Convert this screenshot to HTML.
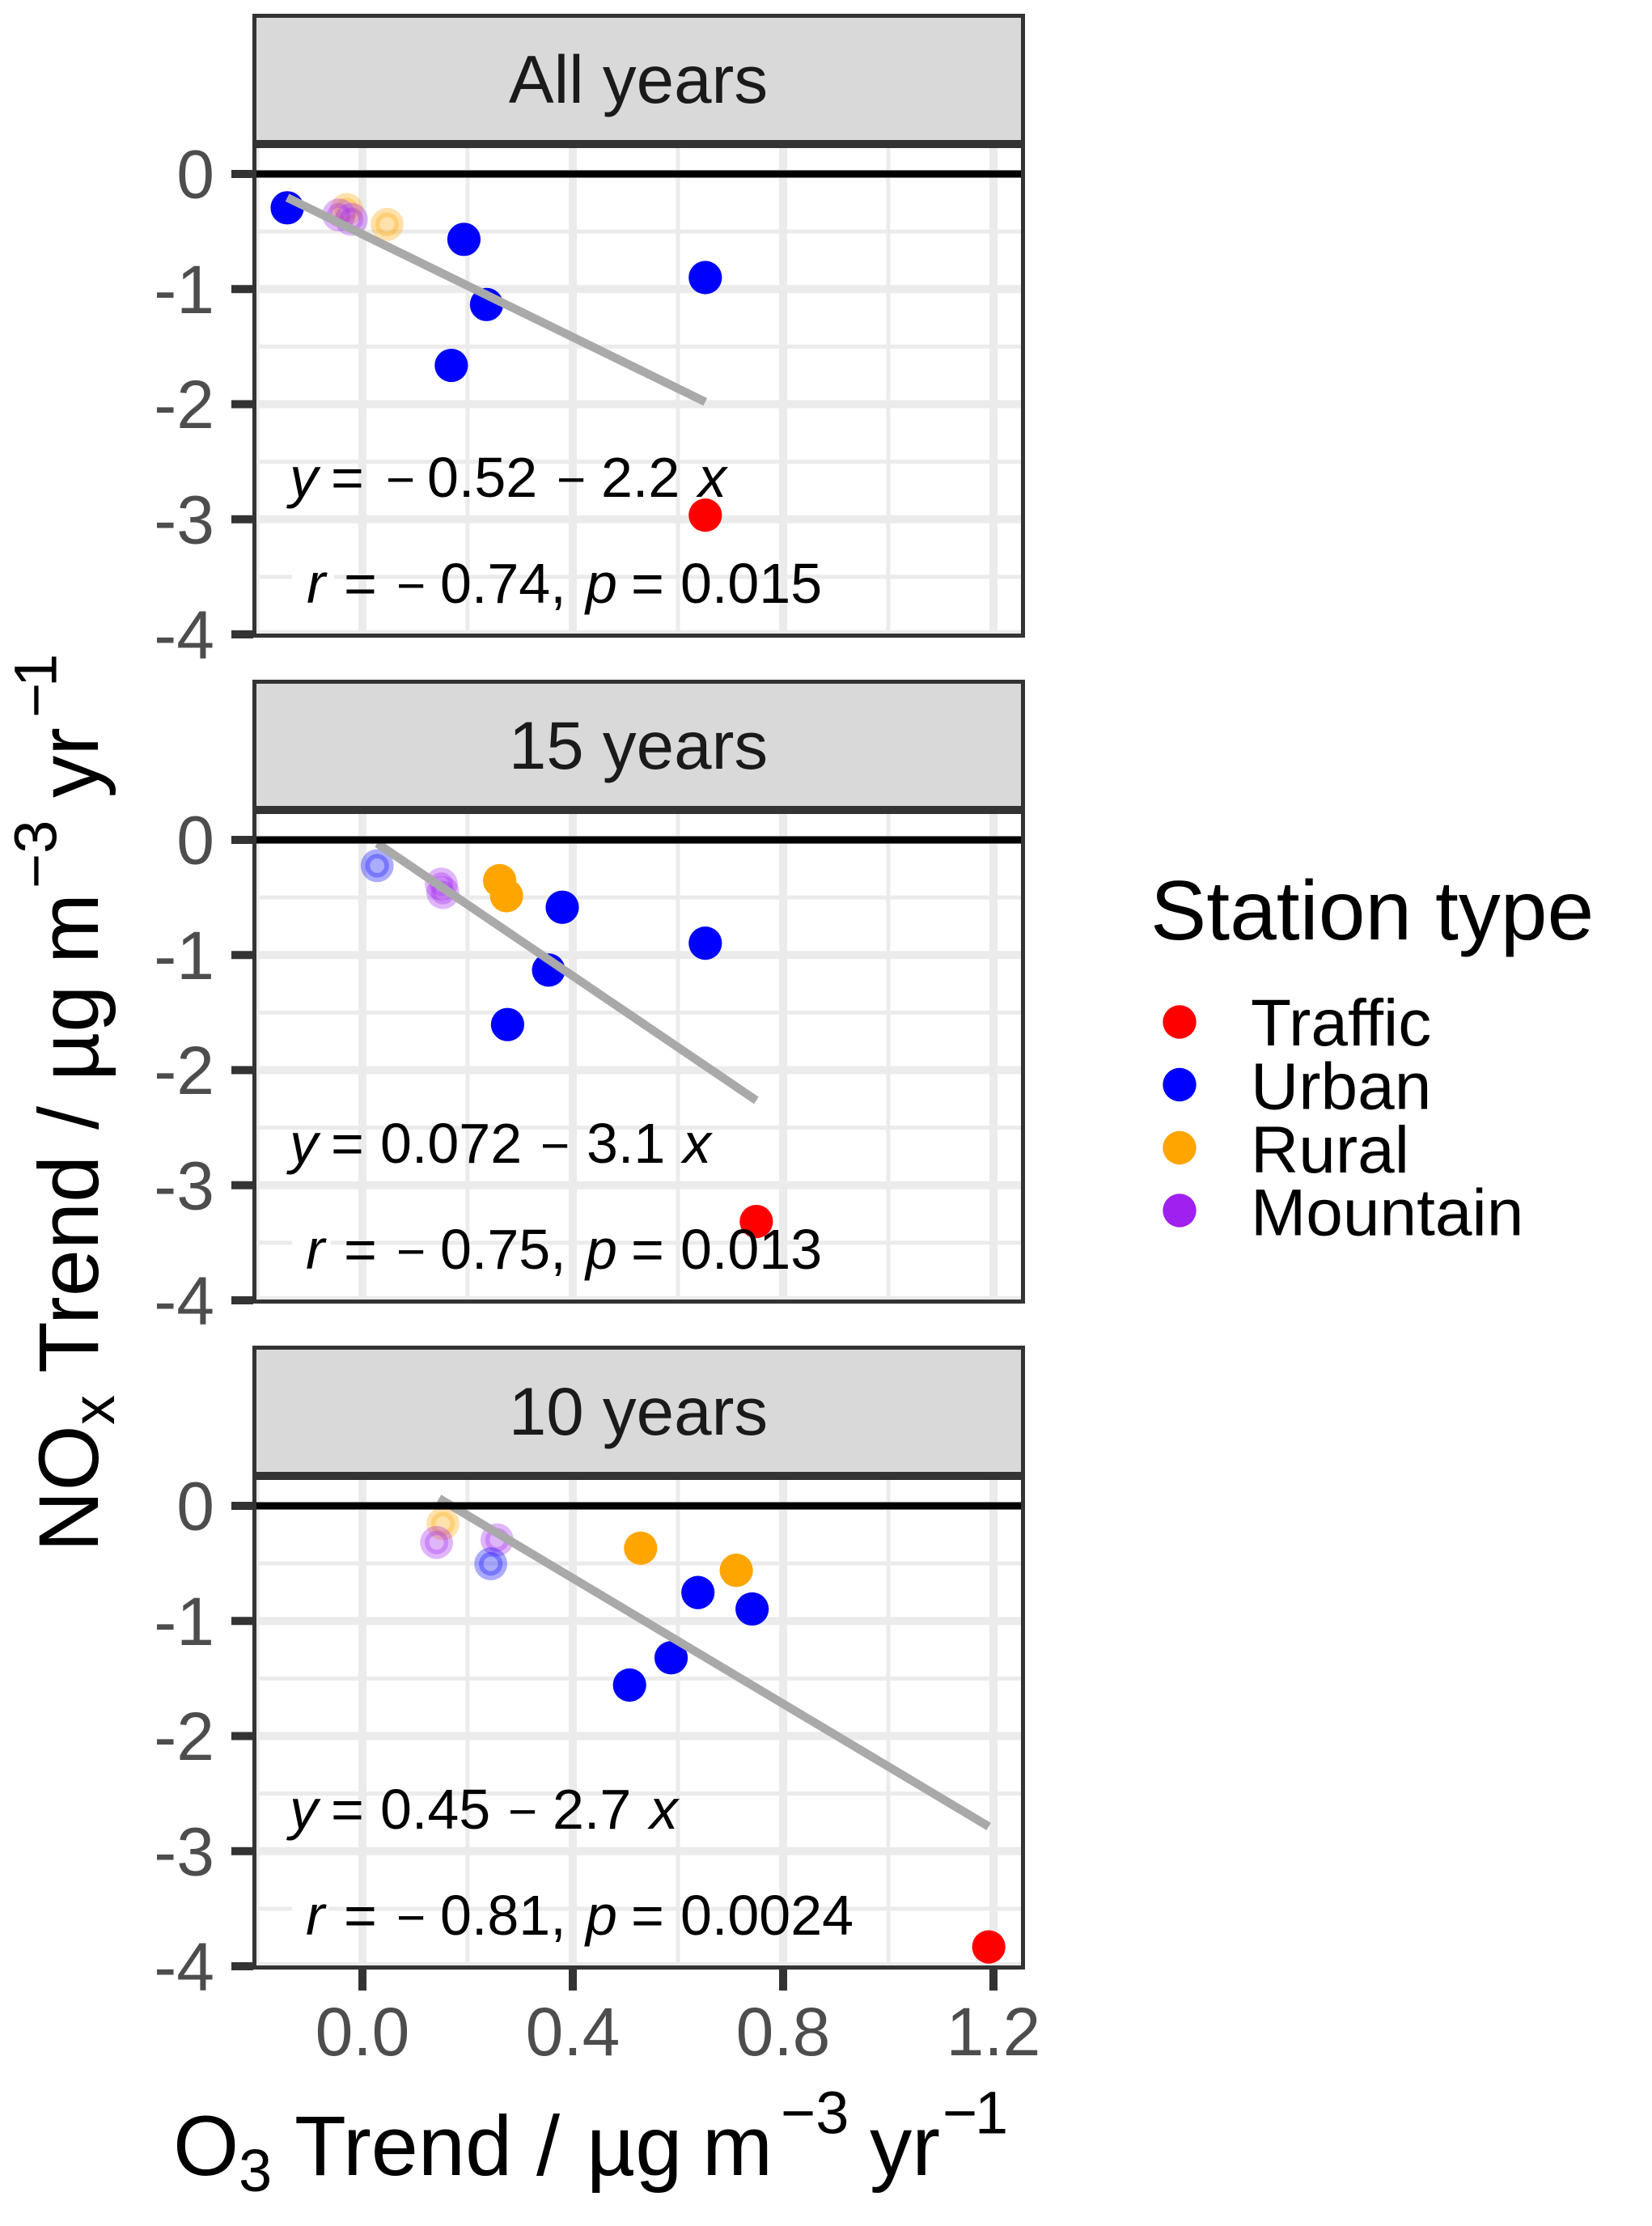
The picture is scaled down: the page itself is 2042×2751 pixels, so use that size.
<!DOCTYPE html>
<html lang="en">
<head>
<meta charset="utf-8">
<title>NOx trend versus O3 trend</title>
<style>
html,body{margin:0;padding:0;background:#fff;}
svg{display:block;font-family:"Liberation Sans",Arial,sans-serif;}
.eq{font-size:70px;fill:#000;}
.eq .i{font-style:italic;}
.eq .m{font-size:62px;}
.axt{font-size:104.5px;fill:#000;}
.sup{font-size:74px;fill:#000;}
.leg{font-size:82px;fill:#000;}
</style>
</head>
<body>
<svg id="chart" xmlns="http://www.w3.org/2000/svg" width="2042" height="2751" viewBox="0 0 2042 2751">
  <rect x="0" y="0" width="2042" height="2751" fill="#ffffff"/>
  <g id="layer-grid"></g>
  <g id="layer-marks"></g>

  <g id="layer-annotations">
    <rect x="361" y="705" width="52" height="16" fill="#fff"/>
    <rect x="361" y="1528" width="48" height="16" fill="#fff"/>
    <rect x="361" y="2351" width="45" height="16" fill="#fff"/>

    <text class="eq" y="614"><tspan class="i" x="358">y</tspan><tspan x="409">=</tspan><tspan class="m" x="477">−</tspan><tspan x="528">0.52</tspan><tspan class="m" x="688">−</tspan><tspan x="743">2.2</tspan><tspan class="i" x="863">x</tspan></text>
    <text class="eq" y="745"><tspan class="i" x="379">r</tspan><tspan x="425">=</tspan><tspan class="m" x="490">−</tspan><tspan x="544">0.74,</tspan><tspan class="i" x="724">p</tspan><tspan x="780">=</tspan><tspan x="841">0.015</tspan></text>

    <text class="eq" y="1437"><tspan class="i" x="358">y</tspan><tspan x="409">=</tspan><tspan x="470">0.072</tspan><tspan class="m" x="668">−</tspan><tspan x="725">3.1</tspan><tspan class="i" x="844">x</tspan></text>
    <text class="eq" y="1568"><tspan class="i" x="378">r</tspan><tspan x="425">=</tspan><tspan class="m" x="490">−</tspan><tspan x="544">0.75,</tspan><tspan class="i" x="724">p</tspan><tspan x="780">=</tspan><tspan x="841">0.013</tspan></text>

    <text class="eq" y="2260"><tspan class="i" x="358">y</tspan><tspan x="409">=</tspan><tspan x="470">0.45</tspan><tspan class="m" x="628">−</tspan><tspan x="683">2.7</tspan><tspan class="i" x="803">x</tspan></text>
    <text class="eq" y="2391"><tspan class="i" x="378">r</tspan><tspan x="425">=</tspan><tspan class="m" x="490">−</tspan><tspan x="544">0.81,</tspan><tspan class="i" x="724">p</tspan><tspan x="780">=</tspan><tspan x="841">0.0024</tspan></text>
  </g>

  <g id="layer-frame"></g>
  <g id="layer-axes"></g>

  <g>
    <text class="axt" x="214" y="2688">O</text>
    <text class="sup" x="295" y="2708">3</text>
    <text class="axt" x="364" y="2688">Trend</text>
    <text class="axt" x="663" y="2688">/</text>
    <text class="axt" x="725" y="2688">µg</text>
    <text class="axt" x="868" y="2688">m</text>
    <text class="sup" x="965" y="2636.5">−3</text>
    <text class="axt" x="1075" y="2688">yr</text>
    <text class="sup" x="1165" y="2636.5">−</text>
    <text class="sup" x="1205" y="2636.5">1</text>
  </g>

  <g>
    <text class="axt" transform="translate(121,1918) rotate(-90)">NO</text>
    <text class="sup" transform="translate(141,1761) rotate(-90)">x</text>
    <text class="axt" transform="translate(121,1697) rotate(-90)">Trend</text>
    <text class="axt" transform="translate(121,1396) rotate(-90)">/</text>
    <text class="axt" transform="translate(121,1336) rotate(-90)">µg</text>
    <text class="axt" transform="translate(121,1191) rotate(-90)">m</text>
    <text class="sup" transform="translate(69.5,1098) rotate(-90)">−3</text>
    <text class="axt" transform="translate(121,986) rotate(-90)">yr</text>
    <text class="sup" transform="translate(69.5,887) rotate(-90)">−</text>
    <text class="sup" transform="translate(69.5,849) rotate(-90)">1</text>
  </g>

  <g>
    <text x="1422" y="1161" font-size="103.8" fill="#000">Station type</text>
    <g>
      <circle cx="1458" cy="1263" r="20.7" fill="#ff0000"/>
      <text class="leg" x="1546" y="1292">Traffic</text>
    </g>
    <g>
      <circle cx="1458" cy="1340.5" r="20.7" fill="#0000ff"/>
      <text class="leg" x="1546" y="1370.5">Urban</text>
    </g>
    <g>
      <circle cx="1458" cy="1418.5" r="20.7" fill="#ffa500"/>
      <text class="leg" x="1546" y="1449">Rural</text>
    </g>
    <g>
      <circle cx="1458" cy="1496" r="20.7" fill="#a020f0"/>
      <text class="leg" x="1546" y="1526.5">Mountain</text>
    </g>
  </g>
</svg>

<script>
// ---- chart data ----
const panelLabels = ['All years', '15 years', '10 years'];
const yTicks = [0, -1, -2, -3, -4];
const yMinorTicks = [-0.5, -1.5, -2.5, -3.5];
const xTicks = [0, 0.4, 0.8, 1.2];
const xMinorTicks = [-0.2, 0.2, 0.6, 1.0];
const yTickLabels = ['0', '-1', '-2', '-3', '-4'];
const xTickLabels = ['0.0', '0.4', '0.8', '1.2'];
const typeColors = {Traffic: '#ff0000', Urban: '#0000ff', Rural: '#ffa500', Mountain: '#a020f0'};

const allYearsX = [-0.143, 0.193, 0.236, 0.169, 0.652, 0.652, -0.030, 0.047, -0.045, -0.021];
const allYearsY = [-0.294, -0.568, -1.134, -1.663, -0.900, -2.964, -0.309, -0.438, -0.356, -0.394];
const allYearsType = ['Urban', 'Urban', 'Urban', 'Urban', 'Urban', 'Traffic', 'Rural', 'Rural', 'Mountain', 'Mountain'];
const allYearsSignificant = [1, 1, 1, 1, 1, 1, 0, 0, 0, 0];
const allYearsFitX = [-0.143, 0.652];
const allYearsFitY = [-0.205, -1.980];

const fifteenYearsX = [0.380, 0.354, 0.276, 0.652, 0.749, 0.261, 0.274, 0.028, 0.150, 0.153];
const fifteenYearsY = [-0.585, -1.131, -1.604, -0.897, -3.315, -0.354, -0.485, -0.224, -0.384, -0.458];
const fifteenYearsType = ['Urban', 'Urban', 'Urban', 'Urban', 'Traffic', 'Rural', 'Rural', 'Urban', 'Mountain', 'Mountain'];
const fifteenYearsSignificant = [1, 1, 1, 1, 1, 1, 1, 0, 0, 0];
const fifteenYearsFitX = [0.028, 0.749];
const fifteenYearsFitY = [-0.030, -2.263];

const tenYearsX = [0.638, 0.741, 0.587, 0.508, 0.529, 0.711, 1.191, 0.153, 0.141, 0.256, 0.244];
const tenYearsY = [-0.753, -0.896, -1.320, -1.557, -0.368, -0.560, -3.832, -0.155, -0.318, -0.295, -0.504];
const tenYearsType = ['Urban', 'Urban', 'Urban', 'Urban', 'Rural', 'Rural', 'Traffic', 'Rural', 'Mountain', 'Mountain', 'Urban'];
const tenYearsSignificant = [1, 1, 1, 1, 1, 1, 1, 0, 0, 0, 0];
const tenYearsFitX = [0.1456, 1.191];
const tenYearsFitY = [0.065, -2.786];

// ---- layout and axis functions ----
const NS = 'http://www.w3.org/2000/svg';
const PANEL_STEP = 823;
const PANEL_LEFT = 317;
const PANEL_RIGHT = 1262;
function xScale(v) { return 448 + 650 * v; }
function yScale(panel, v) { return 215 + PANEL_STEP * panel - 142.25 * v; }
function shape(tag, attrs) {
  const el = document.createElementNS(NS, tag);
  for (const k in attrs) el.setAttribute(k, attrs[k]);
  return el;
}
const layerGrid = document.getElementById('layer-grid');
const layerMarks = document.getElementById('layer-marks');
const layerFrame = document.getElementById('layer-frame');
const layerAxes = document.getElementById('layer-axes');

const panelSeries = [
  {x: allYearsX, y: allYearsY, type: allYearsType, sig: allYearsSignificant, fx: allYearsFitX, fy: allYearsFitY},
  {x: fifteenYearsX, y: fifteenYearsY, type: fifteenYearsType, sig: fifteenYearsSignificant, fx: fifteenYearsFitX, fy: fifteenYearsFitY},
  {x: tenYearsX, y: tenYearsY, type: tenYearsType, sig: tenYearsSignificant, fx: tenYearsFitX, fy: tenYearsFitY}
];

panelLabels.forEach(function (label, p) {
  const top = 180.5 + PANEL_STEP * p;
  const bottom = 785.5 + PANEL_STEP * p;

  // gridlines
  xMinorTicks.forEach(function (v) {
    const el = shape('line', {x1: xScale(v), x2: xScale(v), y1: top, y2: bottom, stroke: '#ebebeb', 'stroke-width': 5});
    
    
    layerGrid.appendChild(el);
  });
  yMinorTicks.forEach(function (v) {
    const el = shape('line', {x1: PANEL_LEFT, x2: PANEL_RIGHT, y1: yScale(p, v), y2: yScale(p, v), stroke: '#ebebeb', 'stroke-width': 5});
    
    
    layerGrid.appendChild(el);
  });
  xTicks.forEach(function (v) {
    const el = shape('line', {x1: xScale(v), x2: xScale(v), y1: top, y2: bottom, stroke: '#ebebeb', 'stroke-width': 10});
    
    
    layerGrid.appendChild(el);
  });
  yTicks.forEach(function (v) {
    const el = shape('line', {x1: PANEL_LEFT, x2: PANEL_RIGHT, y1: yScale(p, v), y2: yScale(p, v), stroke: '#ebebeb', 'stroke-width': 10});
    
    
    layerGrid.appendChild(el);
  });

  // points
  const s = panelSeries[p];
  s.x.forEach(function (xv, i) {
    const color = typeColors[s.type[i]];
    const cx = xScale(xv);
    const cy = yScale(p, s.y[i]);
    if (s.sig[i]) {
      const dot = shape('circle', {cx: cx, cy: cy, r: 20.6, fill: color});
      
      
      layerMarks.appendChild(dot);
    } else {
      const dot = shape('circle', {cx: cx, cy: cy, r: 20.4, fill: color, 'fill-opacity': 0.33});
      
      
      layerMarks.appendChild(dot);
      const ring = shape('circle', {cx: cx, cy: cy, r: 11.8, fill: 'none', stroke: color, 'stroke-opacity': 0.3, 'stroke-width': 5.7});
      
      
      layerMarks.appendChild(ring);
    }
  });

  // regression line
  const fit = shape('line', {x1: xScale(s.fx[0]), y1: yScale(p, s.fy[0]), x2: xScale(s.fx[1]), y2: yScale(p, s.fy[1]), stroke: '#a9a9a9', 'stroke-width': 10.5});
  
  
  layerMarks.appendChild(fit);

  // zero reference line
  const zero = shape('line', {x1: PANEL_LEFT, x2: PANEL_RIGHT + 2, y1: yScale(p, 0), y2: yScale(p, 0), stroke: '#000000', 'stroke-width': 9});
  
  
  layerMarks.appendChild(zero);

  // panel border and strip
  const frame = shape('rect', {x: 314.5, y: top, width: 950, height: bottom - top, fill: 'none', stroke: '#333333', 'stroke-width': 5});
  
  
  layerFrame.appendChild(frame);

  const strip = shape('rect', {x: 314.5, y: 19.5 + PANEL_STEP * p, width: 950, height: 156, fill: '#d9d9d9', stroke: '#333333', 'stroke-width': 5});
  
  
  layerFrame.appendChild(strip);

  const stripText = shape('text', {x: 789, y: 127 + PANEL_STEP * p, 'text-anchor': 'middle', 'font-size': 83.5, fill: '#1a1a1a'});
  stripText.textContent = label;
  
  
  layerFrame.appendChild(stripText);

  // y axis ticks and labels
  yTicks.forEach(function (v, i) {
    const tick = shape('line', {x1: 286, x2: 313, y1: yScale(p, v), y2: yScale(p, v), stroke: '#333333', 'stroke-width': 10});
    
    
    layerAxes.appendChild(tick);
    const txt = shape('text', {x: 265, y: yScale(p, v) + 29.5, 'text-anchor': 'end', 'font-size': 84, fill: '#4d4d4d'});
    txt.textContent = yTickLabels[i];
    
    
    layerAxes.appendChild(txt);
  });
});

// x axis ticks and labels (bottom panel only)
xTicks.forEach(function (v, i) {
  const tick = shape('line', {x1: xScale(v), x2: xScale(v), y1: 2433, y2: 2460, stroke: '#333333', 'stroke-width': 10});
  
  
  layerAxes.appendChild(tick);
  const txt = shape('text', {x: xScale(v), y: 2540, 'text-anchor': 'middle', 'font-size': 84, fill: '#4d4d4d'});
  txt.textContent = xTickLabels[i];
  
  
  layerAxes.appendChild(txt);
});
</script>
</body>
</html>
